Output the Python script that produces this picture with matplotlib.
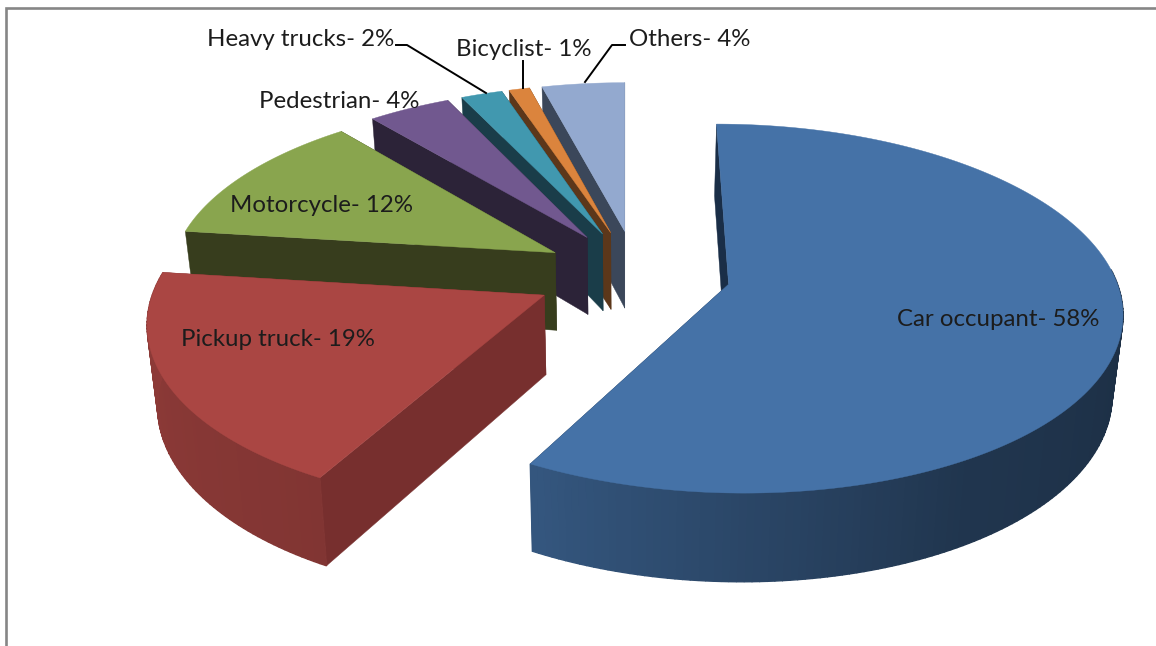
import numpy as np
import matplotlib
matplotlib.use("Agg")
import matplotlib.pyplot as plt
from matplotlib.patches import Polygon

categories = ["Car occupant", "Pickup truck", "Motorcycle", "Pedestrian", "Heavy trucks", "Bicyclist", "Others"]
values = [58, 19, 12, 4, 2, 1, 4]

top_colors = ["#4572A7", "#AA4643", "#89A54E", "#71588F", "#4198AF", "#DB843D", "#93A9CF"]
face_colors = ["#1A2E47", "#772F2E", "#373D1D", "#2C2338", "#1A3D49", "#5C371A", "#3B475A"]
explode = [0.244, 0.265, 0.244, 0.244, 0.244, 0.244, 0.244]

# label position (left edge, centre y) in pixels
label_pos = [(897, 320), (181, 340), (230, 206), (259, 102), (207, 39), (456, 49), (629, 39)]

# perspective of the 3d pie, fitted by eye in pixels
X0, YH = 625, -1090
U0, Q0 = 0.0085, 7.335e-4
BU, CQ = 0.283, 0.96e-4


def project(x, y):
    q = Q0 - CQ * y
    u = U0 + BU * x
    return X0 + u / q, YH + 1 / q


def drop(sx, sy):
    # where the point ends up on the bottom of the pie
    return sx - (sx - X0) * 0.022, sy + 66 + 0.046 * sy


def rim_shade(theta):
    return np.interp(theta, [90, 150, 209, 280], [0.40, 0.47, 0.76, 0.85])


def shaded(color, f):
    return tuple(c * f for c in matplotlib.colors.to_rgb(color))


fig = plt.figure(figsize=(11.56, 6.46), dpi=100)
ax = fig.add_axes([0, 0, 1, 1])
ax.set_xlim(0, 1156)
ax.set_ylim(646, 0)
ax.axis("off")

# frame of the chart
ax.plot([6, 6, 1156], [646, 8, 8], color="#868686", lw=1.9, solid_joinstyle="miter", zorder=1)

edges = np.cumsum([0] + values) / sum(values) * 360

# back slices first, the car slice on top
zo = 2
for i in [6, 5, 4, 3, 2, 1, 0]:
    a, b = edges[i], edges[i + 1]
    mid = np.radians((a + b) / 2)
    ax_x = explode[i] * np.sin(mid)
    ax_y = -explode[i] * np.cos(mid)
    thetas = np.linspace(a, b, max(int(b - a), 4) + 1)
    tx = ax_x + np.sin(np.radians(thetas))
    ty = ax_y - np.cos(np.radians(thetas))
    sx, sy = project(tx, ty)
    bx, by = drop(sx, sy)
    px, py = project(ax_x, ax_y)
    pbx, pby = drop(px, py)

    # radial faces, the far one first
    faces = [(sx[0], sy[0], bx[0], by[0]), (sx[-1], sy[-1], bx[-1], by[-1])]
    faces.sort(key=lambda f: f[1])
    for fx, fy, fbx, fby in faces:
        ax.add_patch(Polygon([(px, py), (fx, fy), (fbx, fby), (pbx, pby)], closed=True,
                             fc=face_colors[i], ec=face_colors[i], lw=0.3, zorder=zo))
        zo += 1

    # outer wall as small shaded pieces, only the part that faces the viewer
    for j in range(len(thetas) - 1):
        t = (thetas[j] + thetas[j + 1]) / 2
        if t > 277.2 or t < 85:
            continue
        c = shaded(top_colors[i], rim_shade(t))
        ax.add_patch(Polygon([(sx[j], sy[j]), (sx[j + 1], sy[j + 1]), (bx[j + 1], by[j + 1]), (bx[j], by[j])],
                             closed=True, fc=c, ec=c, lw=1.0, zorder=zo))
    zo += 1

    ax.add_patch(Polygon(list(zip(sx, sy)) + [(px, py)], closed=True,
                         fc=top_colors[i], ec=top_colors[i], lw=0.3, zorder=zo))
    zo += 1

# leader lines
ax.plot([396, 407, 486], [45, 45, 93], color="black", lw=1.4, zorder=zo)
ax.plot([523, 523], [61, 88], color="black", lw=1.4, zorder=zo)
ax.plot([625, 612, 585], [45, 45, 82], color="black", lw=1.4, zorder=zo)

for name, v, (lx, ly) in zip(categories, values, label_pos):
    ax.text(lx, ly, f"{name}- {v}%", family="Lato", fontsize=17.3, color="#1c1c1c",
            ha="left", va="center", zorder=zo + 1)

fig.savefig("out.png", dpi=100)
